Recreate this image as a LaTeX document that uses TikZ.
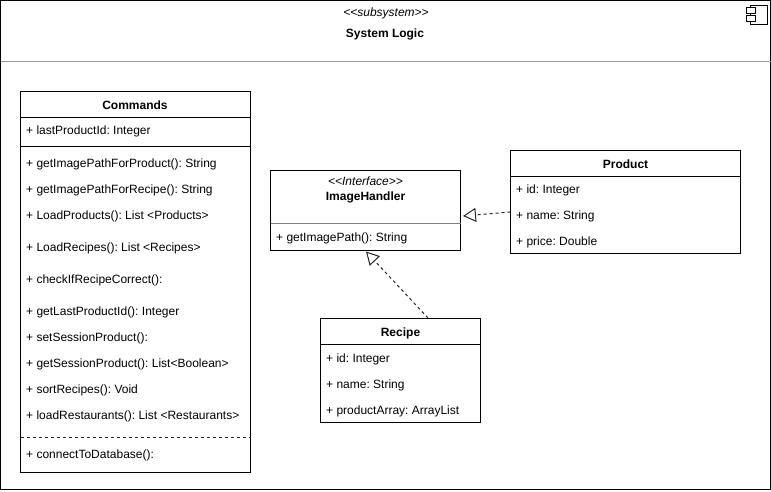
\documentclass[tikz,border=0pt]{standalone}
\usepackage{fontspec}
\setmainfont{Liberation Sans}
\usetikzlibrary{arrows.meta}
\frenchspacing

\tikzset{
    box/.style={draw, line width=1pt, rectangle, inner sep=0pt, outer sep=0pt, anchor=north west},
    member/.style={anchor=base west, inner sep=0pt, font=\fontsize{12}{14}\selectfont},
    title/.style={anchor=base, inner sep=0pt, font=\fontsize{12}{14}\selectfont\bfseries},
    stereo/.style={anchor=base, inner sep=0pt, font=\fontsize{12}{14}\selectfont\itshape},
    realize/.style={draw=black!85, line width=1pt, dashed, dash pattern=on 3pt off 3pt,
        -{Triangle[open,length=13pt,width=14pt,fill=white]}},
}

\begin{document}
\begin{tikzpicture}[x=1pt,y=-1pt]
    \useasboundingbox (0,0) rectangle (771,491);

    % subsystem frame
    \node[box, minimum width=770pt, minimum height=489pt] (frame) at (0.5,0.5) {};
    \draw[line width=1pt, black!40] (0.5,61.5) -- (770.5,61.5);
    \node[stereo] (subsystem) at (386,16) {<{}<subsystem>{}>};
    \node[title] (logic) at (385,37) {System Logic};

    % component icon
    \node[box, minimum width=17pt, minimum height=19.5pt] (icon) at (750,5) {};
    \node[box, fill=white, minimum width=9pt, minimum height=5.5pt] (iconA) at (746,7.5) {};
    \node[box, fill=white, minimum width=9pt, minimum height=5.5pt] (iconB) at (746,15.5) {};

    % Commands
    \node[box, minimum width=230pt, minimum height=381pt] (commands) at (20.5,91) {};
    \draw[line width=1pt] (20.5,117) -- (250.5,117);
    \draw[line width=1pt] (20.5,146) -- (250.5,146);
    \draw[line width=1pt, dashed, dash pattern=on 3pt off 3pt, black!85] (20.5,437) -- (250.5,437);
    \node[title] (commandsName) at (135,109) {Commands};
    \node[member] (cmdA) at (26,134) {+ lastProductId: Integer};
    \node[member] (cmdB) at (26,167) {+ getImagePathForProduct(): String};
    \node[member] (cmdC) at (26,193) {+ getImagePathForRecipe(): String};
    \node[member] (cmdD) at (26,219) {+ LoadProducts(): List <Products>};
    \node[member] (cmdE) at (26,251) {+ LoadRecipes(): List <Recipes>};
    \node[member] (cmdF) at (26,283) {+ checkIfRecipeCorrect():};
    \node[member] (cmdG) at (26,315) {+ getLastProductId(): Integer};
    \node[member] (cmdH) at (26,341) {+ setSessionProduct():};
    \node[member] (cmdI) at (26,367) {+ getSessionProduct(): List<Boolean>};
    \node[member] (cmdJ) at (26,393) {+ sortRecipes(): Void};
    \node[member] (cmdK) at (26,419) {+ loadRestaurants(): List <Restaurants>};
    \node[member] (cmdL) at (26,458) {+ connectToDatabase():};

    % ImageHandler
    \node[box, minimum width=190pt, minimum height=80pt] (handler) at (270.5,170) {};
    \draw[line width=1pt, black!50] (270.5,223) -- (460.5,223);
    \node[stereo] (interface) at (365.5,185) {<{}<Interface>{}>};
    \node[title] (handlerName) at (365.5,200) {ImageHandler};
    \node[member] (handlerA) at (276,241) {+ getImagePath(): String};

    % Product
    \node[box, minimum width=230pt, minimum height=103pt] (product) at (510.5,150) {};
    \draw[line width=1pt] (510.5,176) -- (740.5,176);
    \node[title] (productName) at (625.5,168) {Product};
    \node[member] (productA) at (516,193) {+ id: Integer};
    \node[member] (productB) at (516,219) {+ name: String};
    \node[member] (productC) at (516,245) {+ price: Double};

    % Recipe
    \node[box, minimum width=160pt, minimum height=104pt] (recipe) at (320.5,318) {};
    \draw[line width=1pt] (320.5,344) -- (480.5,344);
    \node[title] (recipeName) at (400.5,336) {Recipe};
    \node[member] (recipeA) at (326,362) {+ id: Integer};
    \node[member] (recipeB) at (326,388) {+ name: String};
    \node[member] (recipeC) at (326,414) {+ productArray: ArrayList};

    % realizations
    \coordinate (productOut) at (510.5,212);
    \coordinate (handlerRight) at (463,216);
    \coordinate (recipeOut) at (428,318);
    \coordinate (handlerBottom) at (366,251.5);
    \draw[realize] (productOut) -- (handlerRight);
    \draw[realize] (recipeOut) -- (handlerBottom);
\end{tikzpicture}
\end{document}
